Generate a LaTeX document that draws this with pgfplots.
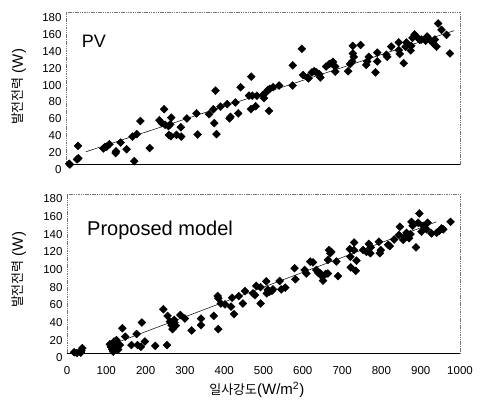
\documentclass[border=0pt]{standalone}
\usepackage{fontspec}
\setmainfont{Liberation Sans}
\newfontfamily\kr{Noto Sans CJK KR}
\usepackage{pgfplots}
\usepackage{pgfplotstable}
\pgfplotsset{compat=1.18}

\pgfplotstableread{
x y
8 1
10 0
28 6
31.5 7.5
30.5 22
95 19
99 21
103 21
110 24
126 13.5
127 15.5
138.5 26
154 18
169 33
179.5 36
173.5 4
189 51.5
212.5 19.5
249 65.5
237 52.5
243 49
251.5 47
260 45.5
264.5 47.5
267 55.5
261 35
266 33.5
280.5 35
292.5 33
291.5 44
307 54.5
331 60.5
334 35.5
363 59.5
374 65.5
376.5 49
379.5 87.5
382 36
392 68.5
409 71.5
415 54.5
417.5 56.5
430 73.5
437 60.5
443 91.5
464.5 81.5
473 81.5
484.5 81.5
470 104
469.5 65.5
481.5 69
502.5 78.5
500 82.5
507 85
512 88
517 89.5
525.5 91.5
541 93.5
515 63.5
575.5 117.5
575 93.5
598.5 137
602 106
613 103
615.5 102
624 109
630 110.5
636 109
645.5 103
643 107
660 116
668.5 119
673.5 120
677.5 121.5
683 116
683.5 110
716 110.5
721 119
726 122
730.5 127.5
728 131.5
728 140.5
747.5 141.5
762 118
764.5 122
768.5 127.5
785.5 109
790 122
790 132.5
815.5 127.5
813 130
825.5 139.5
844.5 135.5
844.5 144.5
847 131
857 120
862 139.5
864 144.5
875 135
876.5 140.5
879.5 150
885 154
889.5 151.5
898 147.5
902 148
912.5 146.5
916.5 151.5
923.5 147.5
932 143.5
936 148
940.5 139.5
944.5 167
953 159.5
966 153.5
974.5 131.5
}\pvdata

\pgfplotstableread{
x y
18 0.8
25 0
35 0.5
36.5 2.5
39 5.5
109 10
111.5 7
115.5 4
117.5 1.5
120 13
124 11
126.5 7
130 4
126 14.5
134.5 9
141 28
148 18.5
164 9
177 21.5
179.5 9
188 7
190.5 34.5
198 13
224.5 8
245 49.5
254.5 9
256 42
262 35.5
266 31.5
270.5 30
273 34.5
273 37.5
268.5 27
277 31
288.5 43
300 39
317 25.5
341 39
341 31.5
373.5 42
383.5 64.5
385 62
385 27
391.5 56
402 55
417.5 52.5
420 62.5
425 44
437 64.5
447.5 56
453 70
473 67.5
478.5 65.5
481.5 76
492.5 74.5
492.5 56
507 81
508.5 67.5
511 71.5
515.5 69.5
521.5 70.5
524 72
541 81.5
545 72
555.5 74
579 96
581 83.5
604.5 94
609 90
619 103.5
626 102.5
634.5 94
638.5 91
644.5 90
649.5 86.5
651.5 82
658 89.5
664 105.5
666.5 116.5
672.5 114.5
670 113
664 90
685.5 103.5
689.5 87
719.5 117.5
721 109
722 97
734.5 93
736.5 104.5
730.5 125
730.5 116.5
753.5 116.5
762 114.5
768 123.5
772 113
773 119.5
793.5 126
796 113
798.5 116.5
817 122.5
821.5 121
832.5 128.5
844.5 133.5
847 143
855.5 128
859.5 131.5
864 136
868 133.5
870.5 130
874 134.5
876.5 148.5
879.5 144
888 119.5
893.5 147.5
896.5 158
902 137.5
906.5 144
915 140
917.5 147.5
927.5 135.5
940.5 136
947.5 138.5
953 141
957.5 140
976 148.5
}\modeldata

\pgfplotsset{
  myaxis/.style={
    scale only axis,
    anchor=south west,
    xmin=0, xmax=1000, ymin=0, ymax=180,
    ytick={0,20,...,180},
    xtick={0,100,...,1000},
    axis line style={draw=none},
    tick style={draw=none},
    clip=false,
    /pgf/number format/assume math mode=true,
    /pgf/number format/1000 sep={},
    tick label style={font=\fontsize{11.5}{12}\selectfont},
    yticklabel style={yshift=-5pt, xshift=-1pt},
  },
  pts/.style={only marks, mark=square*, mark size=2.8pt,
    mark options={rotate=45, fill=black, draw=black}},
}

\begin{document}
\begin{tikzpicture}
\path[use as bounding box] (0,0) rectangle (482pt,404pt);

\begin{axis}[myaxis, at={(66pt,239.5pt)}, width=394pt, height=152pt,
  xticklabels={}]
  \draw[black!55, line width=0.4pt, dash pattern=on 1.5pt off 0.8pt]
    (rel axis cs:0,0) rectangle (rel axis cs:1,1);
  \draw[black, line width=0.6pt] (rel axis cs:0,0) -- (rel axis cs:1,0);
  \addplot[pts] table {\pvdata};
  \addplot[black, line width=0.5pt] coordinates {(50,15) (985,158.5)};
  \node[anchor=west, inner sep=0pt, font=\fontsize{18}{20}\selectfont]
    at (rel axis cs:0.04,0.81) {PV};
  \node[rotate=90, font=\fontsize{15}{16}\selectfont]
    at (rel axis cs:-0.119,0.51) {{\kr\fontsize{13}{14}\selectfont 발전전력}\hspace{4pt}(W)};
\end{axis}

\begin{axis}[myaxis, at={(67pt,51pt)}, width=393pt, height=159pt,
  xticklabel style={yshift=-10pt}]
  \draw[black!55, line width=0.4pt, dash pattern=on 1.5pt off 0.8pt]
    (rel axis cs:0,0) rectangle (rel axis cs:1,1);
  \draw[black, line width=0.6pt] (rel axis cs:0,0) -- (rel axis cs:1,0);
  \addplot[pts] table {\modeldata};
  \addplot[black, line width=0.5pt] coordinates {(110,9) (940,148.5)};
  \node[anchor=west, inner sep=0pt, font=\fontsize{20}{22}\selectfont]
    at (rel axis cs:0.051,0.774) {Proposed model};
  \node[rotate=90, font=\fontsize{15}{16}\selectfont]
    at (rel axis cs:-0.122,0.522) {{\kr\fontsize{13}{14}\selectfont 발전전력}\hspace{4pt}(W)};
  \node[font=\fontsize{15}{16}\selectfont]
    at (rel axis cs:0.483,-0.233) {{\kr\fontsize{13}{14}\selectfont 일사강도}(W/m\textsuperscript{2})};
\end{axis}
\end{tikzpicture}
\end{document}
